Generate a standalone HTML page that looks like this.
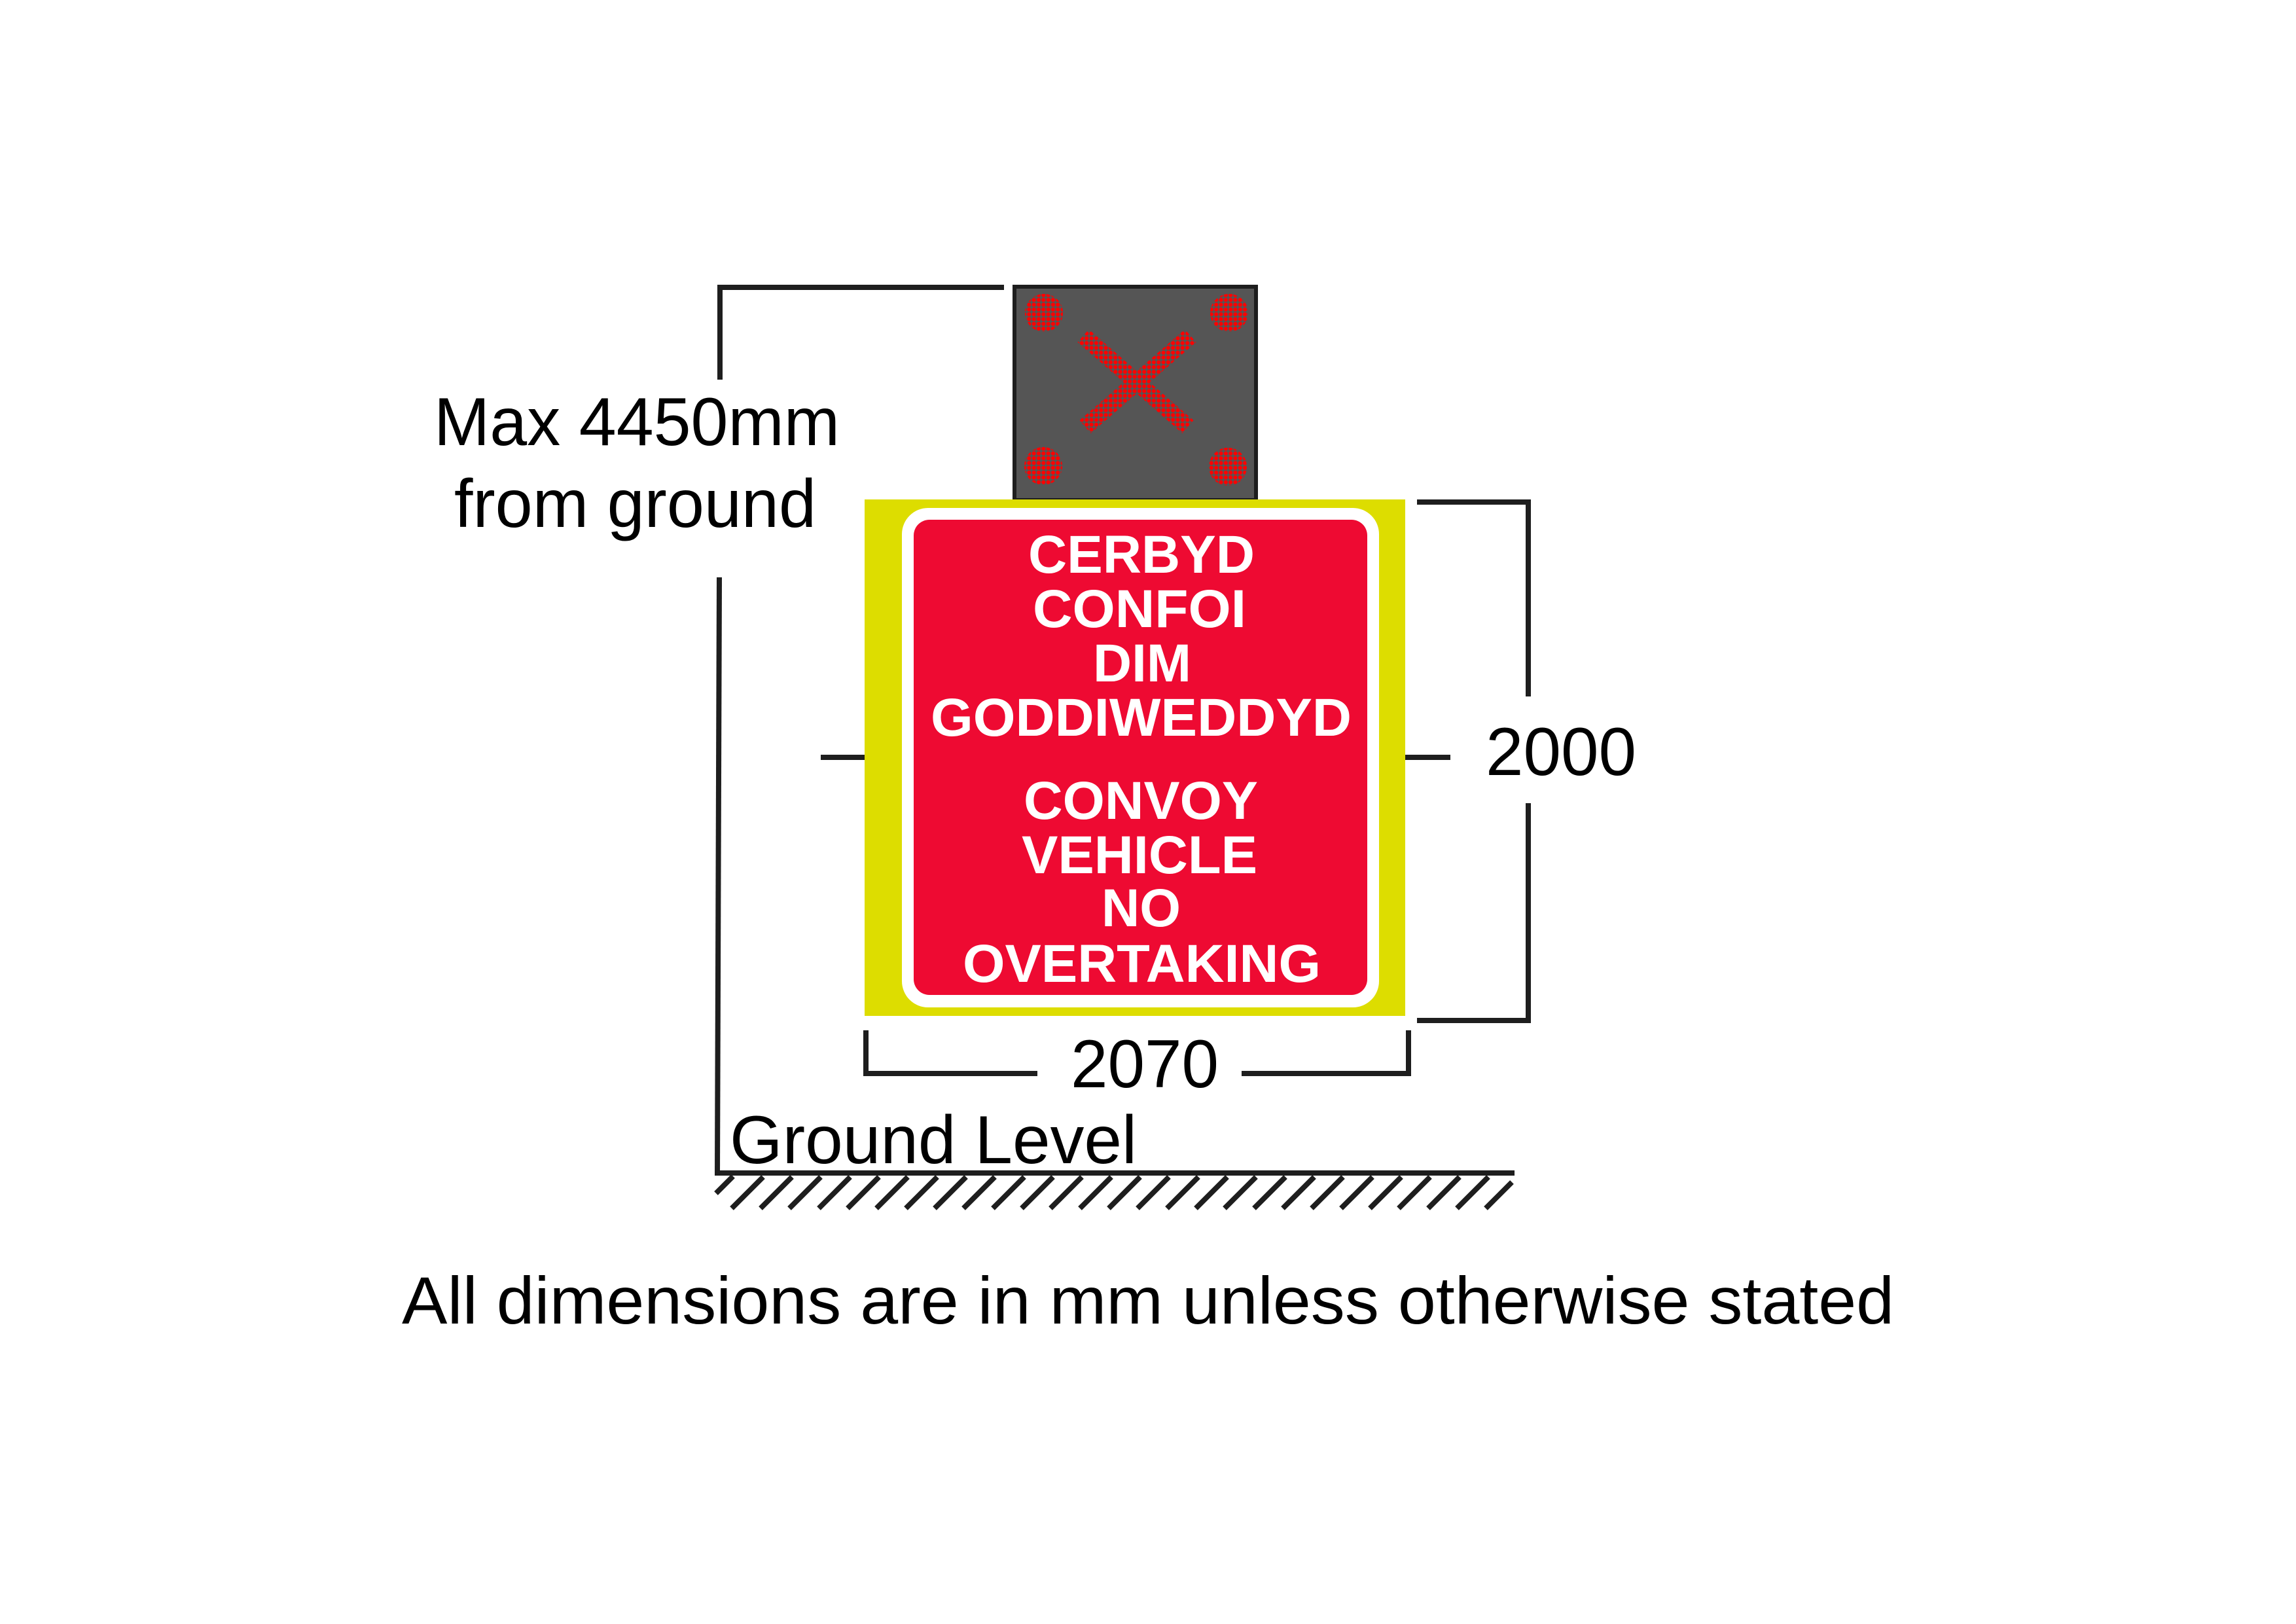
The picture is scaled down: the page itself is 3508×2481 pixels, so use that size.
<!DOCTYPE html>
<html><head><meta charset="utf-8"><style>html,body{margin:0;padding:0;background:#fff}svg{display:block}</style></head>
<body>
<svg width="3508" height="2481" viewBox="0 0 3508 2481" xmlns="http://www.w3.org/2000/svg">
<defs>
<pattern id="dots" x="0" y="0" width="7.33" height="7.33" patternUnits="userSpaceOnUse">
<circle cx="3.66" cy="3.66" r="3.1" fill="#ff0000"/>
</pattern>
<mask id="ledm">
<rect x="0" y="0" width="3508" height="2481" fill="#000"/>
<circle cx="1595" cy="478" r="29" fill="#fff"/>
<circle cx="1878" cy="478" r="29" fill="#fff"/>
<circle cx="1594" cy="712" r="29" fill="#fff"/>
<circle cx="1876" cy="713" r="29" fill="#fff"/>
<line x1="1655" y1="513" x2="1815" y2="652" stroke="#fff" stroke-width="26"/>
<line x1="1819" y1="513" x2="1658" y2="652" stroke="#fff" stroke-width="26"/>
</mask>
</defs>

<rect x="1550" y="438" width="369" height="326" fill="#555" stroke="#1e1e1e" stroke-width="6"/>
<rect x="1540" y="420" width="400" height="360" fill="url(#dots)" mask="url(#ledm)"/>

<rect x="1321" y="763" width="826" height="789" fill="#dddd00"/>
<rect x="1378" y="776" width="729" height="763" rx="40" fill="#fff"/>
<rect x="1396" y="794" width="693" height="726" rx="24" fill="#ee0a32"/>
<g font-family="Liberation Sans, sans-serif" font-weight="bold" font-size="82" fill="#fff">
<text x="1571" y="875" textLength="346" lengthAdjust="spacingAndGlyphs">CERBYD</text>
<text x="1578" y="958" textLength="326" lengthAdjust="spacingAndGlyphs">CONFOI</text>
<text x="1670" y="1041" textLength="150" lengthAdjust="spacingAndGlyphs">DIM</text>
<text x="1422" y="1124" textLength="643" lengthAdjust="spacingAndGlyphs">GODDIWEDDYD</text>
<text x="1564" y="1251" textLength="358" lengthAdjust="spacingAndGlyphs">CONVOY</text>
<text x="1561" y="1334" textLength="360" lengthAdjust="spacingAndGlyphs">VEHICLE</text>
<text x="1683" y="1415" textLength="121" lengthAdjust="spacingAndGlyphs">NO</text>
<text x="1471" y="1500" textLength="547" lengthAdjust="spacingAndGlyphs">OVERTAKING</text>
</g>

<g stroke="#1e1e1e" stroke-width="8" fill="none">
<polyline points="1534,439 1100,439 1100,580"/>
<line x1="1099" y1="882" x2="1096" y2="1796"/>
<line x1="1092" y1="1792" x2="2314" y2="1792"/>
<line x1="1254" y1="1157" x2="1321" y2="1157"/>
<line x1="2147" y1="1157" x2="2216" y2="1157"/>
<polyline points="2165,767 2335,767 2335,1064"/>
<polyline points="2335,1227 2335,1559 2165,1559"/>
<polyline points="1323,1574 1323,1640 1585,1640"/>
<polyline points="1897,1640 2152,1640 2152,1574"/>
</g>
<g stroke="#1e1e1e" stroke-width="8">
<line x1="1094" y1="1823" x2="1120" y2="1797"/>
<line x1="1118" y1="1846" x2="1166" y2="1798"/><line x1="1162" y1="1846" x2="1210" y2="1798"/><line x1="1206" y1="1846" x2="1254" y2="1798"/><line x1="1251" y1="1846" x2="1299" y2="1798"/><line x1="1295" y1="1846" x2="1343" y2="1798"/><line x1="1339" y1="1846" x2="1387" y2="1798"/><line x1="1384" y1="1846" x2="1432" y2="1798"/><line x1="1428" y1="1846" x2="1476" y2="1798"/><line x1="1472" y1="1846" x2="1520" y2="1798"/><line x1="1517" y1="1846" x2="1565" y2="1798"/><line x1="1561" y1="1846" x2="1609" y2="1798"/><line x1="1605" y1="1846" x2="1653" y2="1798"/><line x1="1650" y1="1846" x2="1698" y2="1798"/><line x1="1694" y1="1846" x2="1742" y2="1798"/><line x1="1738" y1="1846" x2="1786" y2="1798"/><line x1="1783" y1="1846" x2="1831" y2="1798"/><line x1="1827" y1="1846" x2="1875" y2="1798"/><line x1="1871" y1="1846" x2="1919" y2="1798"/><line x1="1916" y1="1846" x2="1964" y2="1798"/><line x1="1960" y1="1846" x2="2008" y2="1798"/><line x1="2004" y1="1846" x2="2052" y2="1798"/><line x1="2049" y1="1846" x2="2097" y2="1798"/><line x1="2093" y1="1846" x2="2141" y2="1798"/><line x1="2137" y1="1846" x2="2185" y2="1798"/><line x1="2182" y1="1846" x2="2230" y2="1798"/><line x1="2226" y1="1846" x2="2274" y2="1798"/><line x1="2270" y1="1846" x2="2310" y2="1806"/>
</g>

<g font-family="Liberation Sans, sans-serif" fill="#000">
<text x="663" y="680" font-size="104" textLength="620" lengthAdjust="spacingAndGlyphs">Max 4450mm</text>
<text x="694" y="805" font-size="104" textLength="553" lengthAdjust="spacingAndGlyphs">from ground</text>
<text x="2270" y="1184" font-size="104" textLength="230" lengthAdjust="spacingAndGlyphs">2000</text>
<text x="1636" y="1661" font-size="104" textLength="226" lengthAdjust="spacingAndGlyphs">2070</text>
<text x="1115" y="1777" font-size="104" textLength="622" lengthAdjust="spacingAndGlyphs">Ground Level</text>
<text x="614" y="2022" font-size="102" textLength="2280" lengthAdjust="spacingAndGlyphs">All dimensions are in mm unless otherwise stated</text>
</g>
</svg>
</body></html>
